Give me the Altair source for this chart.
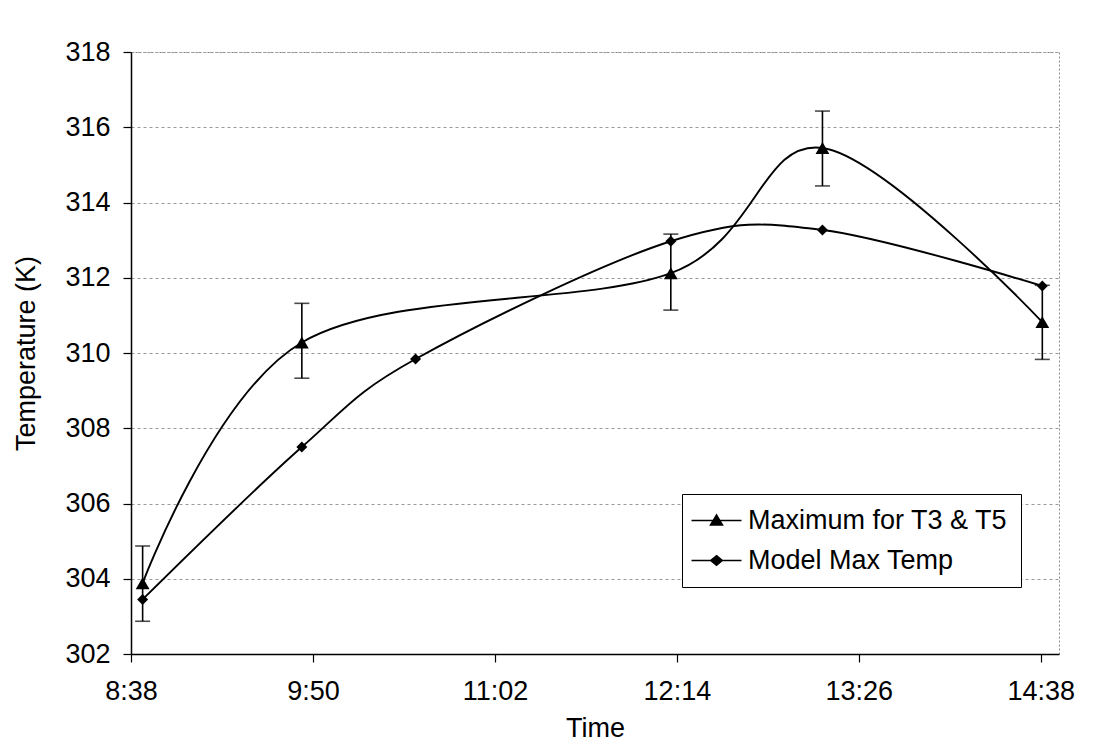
import altair as alt
import pandas as pd

# ---- data ----
max_times = ["8:43", "9:46", "12:12", "13:12", "14:39"]
max_temps = [303.88, 310.28, 312.12, 315.45, 310.82]
max_lo = [302.87, 309.33, 311.14, 314.44, 309.83]
max_hi = [304.87, 311.32, 313.16, 316.43, 311.80]

model_times = ["8:43", "9:46", "10:31", "12:12", "13:12", "14:39"]
model_temps = [303.45, 307.50, 309.84, 312.97, 313.27, 311.78]

x_tick_values = [518.4, 590.4, 662.4, 734.4, 806.4, 878.4]  # 8:38 ... 14:38
x_domain = [518.4, 885.6]
y_tick_values = [302, 304, 306, 308, 310, 312, 314, 316, 318]

S_MAX = "Maximum for T3 & T5"
S_MOD = "Model Max Temp"


def to_min(s):
    h, m = s.split(":")
    return int(h) * 60 + int(m)


rows = []
for t, v, lo, hi in zip(max_times, max_temps, max_lo, max_hi):
    rows.append({"t": to_min(t), "temp": v, "lo": lo, "hi": hi, "series": S_MAX})
for t, v in zip(model_times, model_temps):
    rows.append({"t": to_min(t), "temp": v, "lo": None, "hi": None, "series": S_MOD})
df = pd.DataFrame(rows)
err = df[df["series"] == S_MAX]

FONT = "Liberation Sans"
FS = 27

xenc = alt.X(
    "t:Q",
    scale=alt.Scale(domain=x_domain, nice=False, zero=False),
    axis=alt.Axis(
        title="Time",
        values=x_tick_values,
        labelExpr="floor(datum.value/60) + ':' + (floor(datum.value%60) < 10 ? '0' : '') + floor(datum.value%60)",
        labelFlush=False,
        labelOverlap=False,
        grid=False,
        tickSize=8,
        labelPadding=16,
        titlePadding=11,
    ),
)
yscale = alt.Scale(domain=[302, 318], nice=False, zero=False)
yaxis = alt.Axis(
    title="Temperature (K)",
    values=y_tick_values,
    grid=True,
    tickSize=8,
    labelPadding=13,
    titlePadding=24,
)

err_rule = alt.Chart(err).mark_rule(color="black", strokeWidth=1.6).encode(
    x=xenc, y=alt.Y("lo:Q", scale=yscale, axis=yaxis), y2="hi:Q"
)
err_top = alt.Chart(err).mark_tick(
    color="black", orient="horizontal", size=15, thickness=1.6
).encode(x="t:Q", y="hi:Q")
err_bot = alt.Chart(err).mark_tick(
    color="black", orient="horizontal", size=15, thickness=1.6
).encode(x="t:Q", y="lo:Q")

# legend symbols: a line with the marker in the middle (path scaled by 10 px per unit)
tri_sym = "M-2.5,0L2.5,0M0,-0.55L0.6,0.45L-0.6,0.45Z"
dia_sym = "M-2.5,0L2.5,0M0,-0.48L0.58,0L0,0.48L-0.58,0Z"
sym_expr = "datum.value === '%s' ? '%s' : '%s'" % (S_MAX, tri_sym, dia_sym)

lines = alt.Chart(df).mark_line(interpolate="cardinal", strokeWidth=1.9).encode(
    x="t:Q",
    y=alt.Y("temp:Q", scale=yscale),
    color=alt.Color(
        "series:N",
        scale=alt.Scale(domain=[S_MAX, S_MOD], range=["black", "black"]),
        legend=alt.Legend(
            title=None,
            orient="none",
            legendX=551,
            legendY=442,
            direction="vertical",
            fillColor="white",
            strokeColor="black",
            padding=13,
            rowPadding=12,
            symbolType=alt.ExprRef(expr=sym_expr),
            symbolSize=400,
            symbolOffset=8,
            labelOffset=18,
            symbolFillColor="black",
            symbolStrokeColor="black",
            symbolStrokeWidth=1.5,
            symbolOpacity=1,
            labelFont=FONT,
            labelFontSize=FS,
            labelColor="black",
            labelLimit=400,
        ),
    ),
)

pts_max = alt.Chart(df[df["series"] == S_MAX]).mark_point(
    filled=True, opacity=1, color="black", shape="triangle-up", size=190
).encode(x="t:Q", y=alt.Y("temp:Q", scale=yscale))
pts_mod = alt.Chart(df[df["series"] == S_MOD]).mark_point(
    filled=True, opacity=1, color="black", shape="diamond", size=120
).encode(x="t:Q", y=alt.Y("temp:Q", scale=yscale))

chart = (
    alt.layer(err_rule, err_top, err_bot, lines, pts_max, pts_mod)
    .properties(
        width=928,
        height=602,
        padding={"left": 123, "top": 44, "right": 50, "bottom": 89},
        autosize=alt.AutoSizeParams(type="none"),
        background="white",
    )
    .configure_view(stroke="#8a8a8a", strokeDash=[2, 2], strokeWidth=1)
    .configure_axis(
        labelFont=FONT,
        titleFont=FONT,
        labelFontSize=FS,
        titleFontSize=FS,
        labelColor="black",
        titleColor="black",
        titleFontWeight="normal",
        domainColor="black",
        domainWidth=1.5,
        tickColor="black",
        tickWidth=1.2,
        gridColor="#9a9a9a",
        gridDash=[3, 3],
        gridWidth=1,
    )
)

chart.save("out.html", embed_options={"renderer": "svg", "actions": False})
